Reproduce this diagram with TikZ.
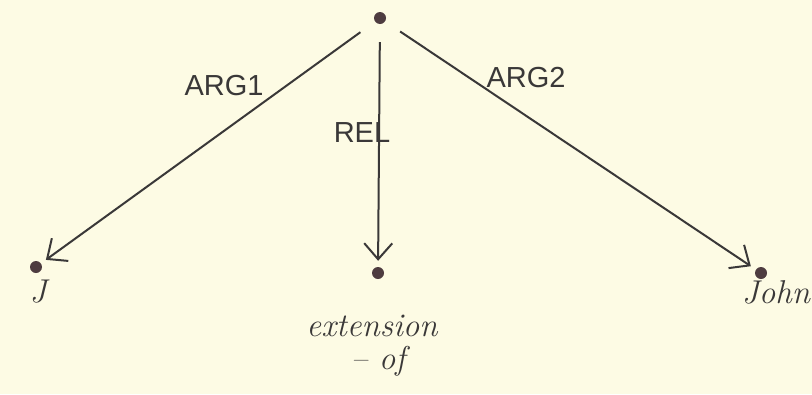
\documentclass[tikz,border=0pt]{standalone}
\usepackage{fontspec}
\setmainfont{Latin Modern Roman}
\newfontfamily\capsfont{Liberation Sans}
\usetikzlibrary{arrows.meta}
\definecolor{paper}{HTML}{FDFBE4}
\definecolor{ink}{HTML}{3A3838}
\definecolor{dotc}{HTML}{4E3C40}
\begin{document}
\begin{tikzpicture}[x=1pt,y=-1pt,
  pt/.style={circle,fill=dotc,inner sep=0pt,minimum size=12pt},
  conn/.style={draw=ink,line width=2pt,-{Straight Barb[length=16pt,width=28pt,line width=2pt]},shorten <=18pt,shorten >=6pt},
  caplbl/.style={text=ink,font=\capsfont\fontsize{29}{31}\selectfont},
  wordlbl/.style={text=ink,font=\itshape\fontsize{33}{36}\selectfont,align=center}]
\fill[paper] (0,0) rectangle (812,394);
\useasboundingbox (0,0) rectangle (812,394);
\node[pt] (top) at (380,18) {};
\node[pt] (j) at (36,267) {};
\node[pt] (ext) at (378,273) {};
\node[pt] (john) at (761,273) {};
\draw[conn] (top) -- (j);
\draw[conn] (top) -- (ext);
\draw[conn] (top) -- (john);
\node[caplbl] (l1) at (224,86) {ARG1};
\node[caplbl] (l2) at (362,133) {REL};
\node[caplbl] (l3) at (526,78) {ARG2};
\node[wordlbl] (jl) at (38,292) {J};
\node[wordlbl] (el) at (372,326) {extension};
\node[wordlbl] (ol) at (378,361) {-- of};
\node[wordlbl] (jnl) at (776,292) {John};
\end{tikzpicture}
\end{document}
